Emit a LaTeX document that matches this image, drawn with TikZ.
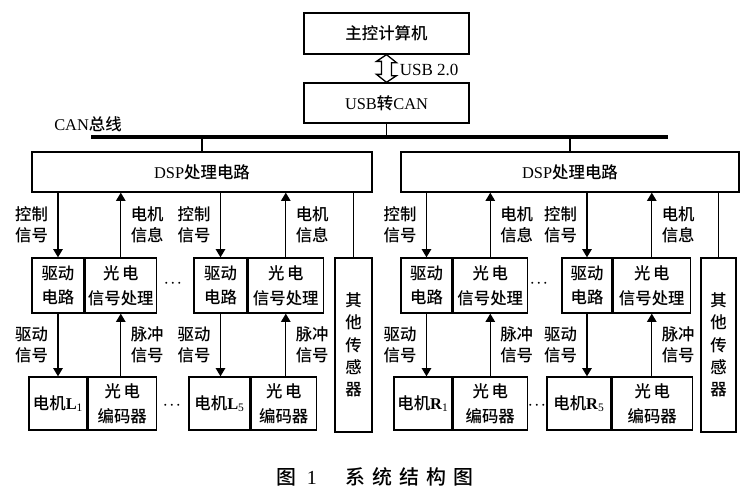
\documentclass[tikz,border=0pt]{standalone}
\usepackage{fontspec}
\setmainfont{Liberation Serif}
\newfontfamily\cjk{Noto Sans CJK SC Medium}
\usetikzlibrary{positioning,arrows.meta}
\begin{document}
\begin{tikzpicture}[x=0.03cm, y=-0.03cm, line width=1.1pt,
		box/.style 2 args={draw, inner sep=0pt, align=center, minimum width=#1*0.03cm, minimum height=#2*0.03cm, font=\fontsize{14}{21}\selectfont\cjk},
		lbl/.style={align=center, inner sep=1pt, font=\fontsize{14}{18}\selectfont\cjk},
		dots/.style={inner sep=0pt, font=\fontsize{10.5}{12}\selectfont\boldmath},
		sig/.style={-{Triangle[length=7pt,width=8pt]}}]
		\useasboundingbox (0,0) rectangle (748,499);
		\node[box={165}{41}] (host) at (386.5,33.5) {主控计算机};
		\node[box={165}{40}] (usbcan) at (386.5,103) {{\rmfamily USB}转{\rmfamily CAN}};
		\draw (host.south) -- ++(10,8) -- ++(-5,0) -- ++(0,13) -- ++(5,0) -- (usbcan.north) -- ++(-10,-8) -- ++(5,0) -- ++(0,-13) -- ++(-5,0) -- cycle;
		\node[lbl, anchor=west, font=\fontsize{14.5}{18}\selectfont] (usblbl) at (398,70) {USB 2.0};
		\node[lbl] (canlbl) at (88,124) {{\rmfamily CAN}总线};
		\coordinate (busL) at (91,137);
		\coordinate (busR) at (668,137);
		\draw[line width=2.6pt] (busL) -- (busR);
		\draw (usbcan.south) -- (usbcan.south |- busL);
		\node[box={340}{40}] (dspL) at (202,172) {{\rmfamily DSP}处理电路};
		\node[box={338}{40}] (dspR) at (570,172) {{\rmfamily DSP}处理电路};
		\draw (dspL.north |- busL) -- (dspL.north);
		\draw (dspR.north |- busL) -- (dspR.north);

		\node[box={52}{55}] (drvL1) at (58,285.5) {驱动\\电路};
		\node[box={71}{55}, right=0pt of drvL1] (optL1) {光\,电\\信号处理};
		\node[box={58}{53}] (motL1) at (58,403.5) {电机{\rmfamily\textbf{L}\textsubscript{1}}};
		\node[box={68}{53}, right=0pt of motL1] (encL1) {光\,电\\编码器};
		\draw[sig] (drvL1.north |- dspL.south) -- node[lbl, left=7pt] {控制\\信号} (drvL1.north);
		\draw[sig] (optL1.north) -- node[lbl, right=7pt] {电机\\信息} (optL1.north |- dspL.south);
		\draw[sig] (drvL1.south) -- node[lbl, left=7pt] {驱动\\信号} (drvL1.south |- motL1.north);
		\draw[sig] (optL1.south |- encL1.north) -- node[lbl, right=7pt] {脉冲\\信号} (optL1.south);

		\node[box={53}{55}] (drvL5) at (220.5,285.5) {驱动\\电路};
		\node[box={75}{55}, right=0pt of drvL5] (optL5) {光\,电\\信号处理};
		\node[box={61}{53}] (motL5) at (219.5,403.5) {电机{\rmfamily\textbf{L}\textsubscript{5}}};
		\node[box={65}{53}, right=0pt of motL5] (encL5) {光\,电\\编码器};
		\draw[sig] (drvL5.north |- dspL.south) -- node[lbl, left=7pt] {控制\\信号} (drvL5.north);
		\draw[sig] (optL5.north) -- node[lbl, right=7pt] {电机\\信息} (optL5.north |- dspL.south);
		\draw[sig] (drvL5.south) -- node[lbl, left=7pt] {驱动\\信号} (drvL5.south |- motL5.north);
		\draw[sig] (optL5.south |- encL5.north) -- node[lbl, right=7pt] {脉冲\\信号} (optL5.south);

		\node[box={51}{55}] (drvR1) at (426.5,285.5) {驱动\\电路};
		\node[box={74}{55}, right=0pt of drvR1] (optR1) {光\,电\\信号处理};
		\node[box={58}{53}] (motR1) at (423,403.5) {电机{\rmfamily\textbf{R}\textsubscript{1}}};
		\node[box={74}{53}, right=0pt of motR1] (encR1) {光\,电\\编码器};
		\draw[sig] (drvR1.north |- dspR.south) -- node[lbl, left=7pt] {控制\\信号} (drvR1.north);
		\draw[sig] (optR1.north) -- node[lbl, right=7pt] {电机\\信息} (optR1.north |- dspR.south);
		\draw[sig] (drvR1.south) -- node[lbl, left=7pt] {驱动\\信号} (drvR1.south |- motR1.north);
		\draw[sig] (optR1.south |- encR1.north) -- node[lbl, right=7pt] {脉冲\\信号} (optR1.south);

		\node[box={50}{55}] (drvR5) at (587,285.5) {驱动\\电路};
		\node[box={77}{55}, right=0pt of drvR5] (optR5) {光\,电\\信号处理};
		\node[box={64}{53}] (motR5) at (579,403.5) {电机{\rmfamily\textbf{R}\textsubscript{5}}};
		\node[box={80}{53}, right=0pt of motR5] (encR5) {光\,电\\编码器};
		\draw[sig] (drvR5.north |- dspR.south) -- node[lbl, left=7pt] {控制\\信号} (drvR5.north);
		\draw[sig] (optR5.north) -- node[lbl, right=7pt] {电机\\信息} (optR5.north |- dspR.south);
		\draw[sig] (drvR5.south) -- node[lbl, left=7pt] {驱动\\信号} (drvR5.south |- motR5.north);
		\draw[sig] (optR5.south |- encR5.north) -- node[lbl, right=7pt] {脉冲\\信号} (optR5.south);

		\node[box={37}{174}, font=\fontsize{14}{19}\selectfont\cjk] (senL) at (353.5,345) {其\\他\\传\\感\\器};
		\node[box={35}{174}, font=\fontsize{14}{19}\selectfont\cjk] (senR) at (718.5,345) {其\\他\\传\\感\\器};
		\draw (senL.north |- dspL.south) -- (senL.north);
		\draw (senR.north |- dspR.south) -- (senR.north);

		\node[dots] (dotsL) at (173,283) {$\cdots$};
		\node[dots] (dotsLb) at (172,405) {$\cdots$};
		\node[dots] (dotsR) at (539,283) {$\cdots$};
		\node[dots] (dotsRb) at (537,405) {$\cdots$};

		\node[font=\fontsize{17}{20}\selectfont\cjk] (title) at (375,477) {图\hspace{8.5pt}{\rmfamily 1}\hspace{24.5pt}系\hspace{6pt}统\hspace{6pt}结\hspace{6pt}构\hspace{6pt}图};
\end{tikzpicture}
\end{document}
